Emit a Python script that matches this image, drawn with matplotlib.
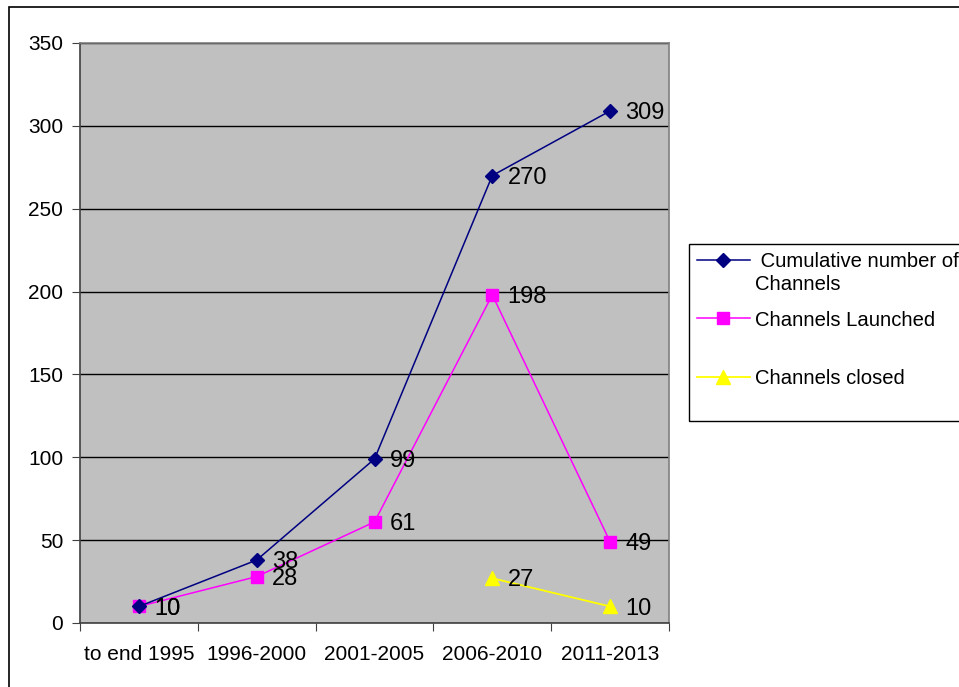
import matplotlib
matplotlib.use("Agg")
import matplotlib.pyplot as plt
import matplotlib.patches as mpatches
import numpy as np

plt.rcParams['font.family'] = ['Liberation Sans', 'DejaVu Sans']

categories = ["to end 1995", "1996-2000", "2001-2005", "2006-2010", "2011-2013"]
cumulative = [10, 38, 99, 270, 309]
launched = [10, 28, 61, 198, 49]
closed = [None, None, None, 27, 10]
series_names = [" Cumulative number of", "Channels Launched", "Channels closed"]
series_name_cont = "Channels"
yticks = [0, 50, 100, 150, 200, 250, 300, 350]

W, H = 959, 687
fig = plt.figure(figsize=(W / 100, H / 100), dpi=100)
fig.patch.set_facecolor('white')
ax = fig.add_axes([80 / W, 1 - 623 / H, (669 - 80) / W, (623 - 43) / H])
ax.set_facecolor('#C0C0C0')

x = np.arange(len(categories))
cx = [i for i, v in enumerate(closed) if v is not None]
cv = [v for v in closed if v is not None]

l1, = ax.plot(x, cumulative, color='#000080', lw=1.1, marker='D', ms=7,
              mfc='#000080', mec='#000080', zorder=4)
l2, = ax.plot(x, launched, color='#FF00FF', lw=1.1, marker='s', ms=9,
              mfc='#FF00FF', mec='#FF00FF', zorder=3)
l3, = ax.plot(cx, cv, color='#FFFF00', lw=1.3, marker='^', ms=10.5,
              mfc='#FFFF00', mec='#FFFF00', zorder=3)

for xs, ys in [(x, cumulative), (x, launched), (cx, cv)]:
    for xi, yi in zip(xs, ys):
        ax.annotate(str(yi), (xi, yi), xytext=(11, -1.5), textcoords='offset points',
                    va='center', ha='left', fontsize=17, color='black', zorder=5)

ax.set_xlim(-0.5, len(categories) - 0.5)
ax.set_ylim(0, 350)
ax.set_yticks(yticks)
ax.set_yticklabels([str(t) for t in yticks], fontsize=15)
ax.yaxis.grid(True, color='black', lw=1)
ax.set_axisbelow(True)

ax.set_xticks(np.arange(-0.5, len(categories), 1.0))
ax.set_xticklabels([])
ax.set_xticks(x, minor=True)
ax.set_xticklabels(categories, minor=True, fontsize=15)
ax.tick_params(axis='x', which='minor', length=0, pad=16)
ax.tick_params(axis='x', which='major', length=6, direction='out', color='#404040')
ax.tick_params(axis='y', length=6, direction='out', pad=6, color='#404040')

for s in ['left', 'bottom']:
    ax.spines[s].set_color('#404040')
    ax.spines[s].set_linewidth(1.2)
for s in ['top', 'right']:
    ax.spines[s].set_color('#808080')
    ax.spines[s].set_linewidth(1.2)

# legend: frame plus one frameless legend per entry
fig.patches.append(mpatches.Rectangle((689 / W, 1 - 421 / H), 0.5, (421 - 244) / H,
                                      transform=fig.transFigure, fill=False,
                                      edgecolor='black', lw=1.0, zorder=1))
entry_y = [262, 320, 379]
for h, lab, yy in zip([l1, l2, l3], series_names, entry_y):
    lg = fig.legend([h], [lab], loc='center left',
                    bbox_to_anchor=(697 / W, 1 - yy / H), frameon=False,
                    fontsize=14.6, handlelength=2.6, handletextpad=0.25,
                    borderpad=0, borderaxespad=0)
fig.text(755 / W, 1 - 285 / H, series_name_cont, fontsize=14.6, va='center', ha='left')

fig.patches.append(mpatches.Rectangle((9 / W, -0.1), 2, 1.1 - 7 / H,
                                      transform=fig.transFigure, fill=False,
                                      edgecolor='black', lw=1.2))

fig.savefig('out.png', dpi=100)
